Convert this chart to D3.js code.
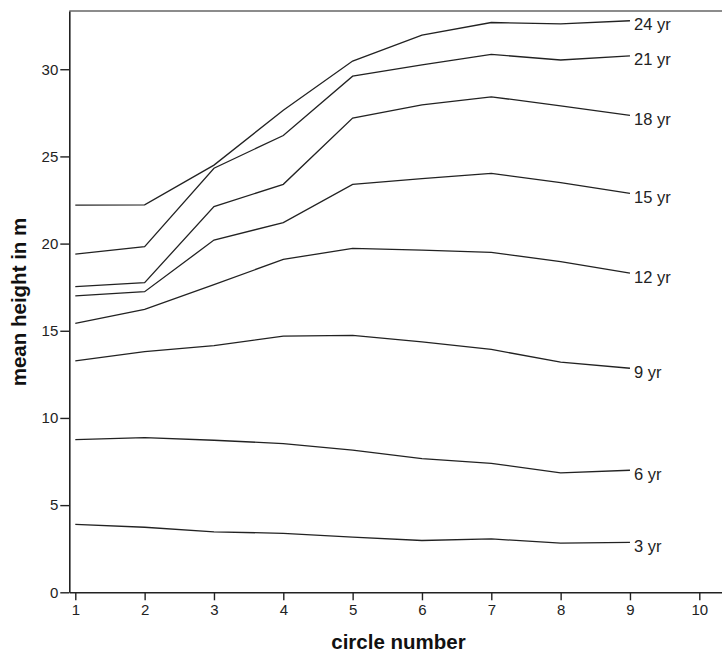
<!DOCTYPE html>
<html>
<head>
<meta charset="utf-8">
<script src="https://cdn.jsdelivr.net/npm/d3@7"></script>
<style>
  html, body { margin: 0; padding: 0; background: #fff; }
  svg { display: block; font-family: "Liberation Sans", Arial, sans-serif; }
  .tick text { fill: #222; font-size: 15px; font-family: "Liberation Sans", Arial, sans-serif; }
  .axis-title { font-weight: bold; font-size: 20.5px; fill: #111; }
  .age-label { font-size: 16.5px; fill: #222; }
</style>
</head>
<body>
<svg id="chart" width="722" height="655"></svg>
<script>
// mean tree height (m) per circle number, one series per age
const circles = [1, 2, 3, 4, 5, 6, 7, 8, 9];
const ageLabels = ["3 yr", "6 yr", "9 yr", "12 yr", "15 yr", "18 yr", "21 yr", "24 yr"];
const h3 = [3.9, 3.73, 3.47, 3.38, 3.17, 2.97, 3.06, 2.82, 2.86];
const h6 = [8.76, 8.87, 8.72, 8.53, 8.15, 7.67, 7.4, 6.85, 7.0];
const h9 = [13.27, 13.8, 14.15, 14.69, 14.74, 14.36, 13.93, 13.2, 12.85];
const h12 = [15.43, 16.23, 17.65, 19.09, 19.73, 19.62, 19.5, 18.96, 18.3];
const h15 = [17.0, 17.24, 20.2, 21.2, 23.4, 23.73, 24.03, 23.5, 22.88];
const h18 = [17.53, 17.76, 22.12, 23.4, 27.2, 27.96, 28.42, 27.9, 27.35];
const h21 = [19.4, 19.82, 24.32, 26.2, 29.6, 30.25, 30.85, 30.53, 30.77];
const h24 = [22.21, 22.22, 24.5, 27.65, 30.47, 31.96, 32.68, 32.6, 32.78];
const xTicks = [1, 2, 3, 4, 5, 6, 7, 8, 9, 10];
const yTicks = [0, 5, 10, 15, 20, 25, 30];

const seriesValues = [h3, h6, h9, h12, h15, h18, h21, h24];

const svg = d3.select("#chart");
const width = 722;
const height = 655;
const margin = { top: 11, right: 0, bottom: 62.7, left: 69.3 };

const x = d3.scaleLinear()
  .domain([1 - 6 / 69.33, 10 + 22.7 / 69.33])
  .range([margin.left, width - margin.right]);

const y = d3.scaleLinear()
  .domain([0, 33.34])
  .range([height - margin.bottom, margin.top]);

// top frame line (grey)
svg.append("line")
  .attr("x1", margin.left).attr("x2", width)
  .attr("y1", margin.top).attr("y2", margin.top)
  .attr("stroke", "#8c8c8c").attr("stroke-width", 2);

const xAxis = svg.append("g")
  .attr("transform", `translate(0,${height - margin.bottom})`)
  .call(d3.axisBottom(x).tickValues(xTicks).tickSize(8).tickPadding(4).tickSizeOuter(0));
xAxis.select(".domain").attr("stroke", "#222").attr("stroke-width", 1.6);
xAxis.selectAll(".tick line").attr("stroke", "#222").attr("stroke-width", 1.4);

const yAxis = svg.append("g")
  .attr("transform", `translate(${margin.left},0)`)
  .call(d3.axisLeft(y).tickValues(yTicks).tickSize(9).tickPadding(2).tickSizeOuter(0));
yAxis.select(".domain").attr("stroke", "#222").attr("stroke-width", 1.6);
yAxis.selectAll(".tick line").attr("stroke", "#222").attr("stroke-width", 1.4);

const line = d3.line()
  .x((d, i) => x(circles[i]))
  .y((d) => y(d));

svg.append("g")
  .selectAll("path")
  .data(seriesValues)
  .join("path")
  .attr("fill", "none")
  .attr("stroke", "#222")
  .attr("stroke-width", 1.3)
  .attr("d", line);

svg.append("g")
  .selectAll("text")
  .data(seriesValues)
  .join("text")
  .attr("class", "age-label")
  .attr("x", x(circles[circles.length - 1]) + 4)
  .attr("y", (d) => y(d[d.length - 1]) + 3.5)
  .attr("dy", "0.35em")
  .text((d, i) => ageLabels[i]);

svg.append("text")
  .attr("class", "axis-title")
  .attr("text-anchor", "middle")
  .attr("x", 398.5)
  .attr("y", 649)
  .text("circle number");

svg.append("text")
  .attr("class", "axis-title")
  .attr("text-anchor", "middle")
  .attr("transform", "translate(26,302) rotate(-90)")
  .text("mean height in m");
</script>
</body>
</html>
